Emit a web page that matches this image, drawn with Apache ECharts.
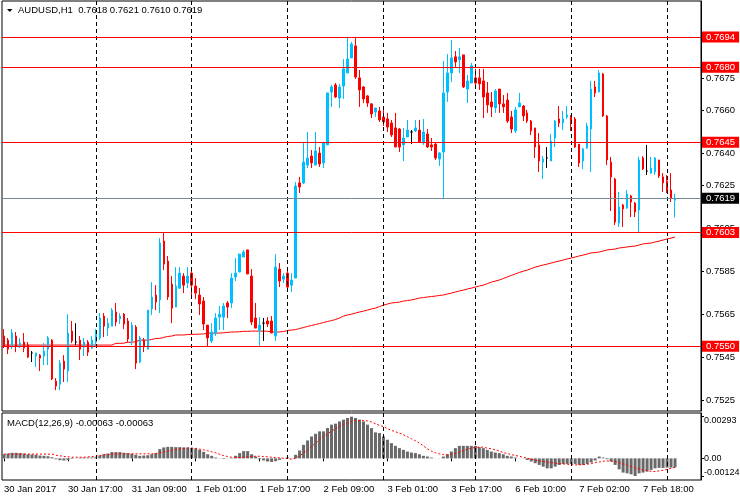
<!DOCTYPE html>
<html><head><meta charset="utf-8">
<script src="https://cdn.jsdelivr.net/npm/echarts@6/dist/echarts.min.js"></script>
<style>html,body{margin:0;padding:0;background:#fff}#c{width:740px;height:500px}</style>
</head><body><div id="c"></div>
<script>
// ---- data ----
const symbolName = 'AUDUSD,H1';
const yearLabel = '30 Jan 2017';
const dayRanges = [['30 Jan',1,23],['31 Jan',0,23],['1 Feb',0,23],['2 Feb',0,23],['3 Feb',0,22],['6 Feb',0,23],['7 Feb',0,23],['8 Feb',0,2]];

const opens = [
.75548,.75529,.75497,.75548,.75501,.75520,.75506,.75469,.75455,.75459,
.75455,.75487,.75529,.75338,.75324,.75431,.75385,.75571,.75520,.75529,
.75497,.75520,.75492,.75520,.75539,.75641,.75585,.75594,.75660,.75627,
.75650,.75618,.75525,.75590,.75427,.75529,.75487,.75674,.75739,.75716,
.75990,.75897,.75790,.75683,.75771,.75827,.75795,.75841,.75781,.75739,
.75711,.75599,.75525,.75562,.75636,.75636,.75702,.75702,.75823,.75846,
.75916,.75949,.75827,.75632,.75576,.75608,.75618,.75618,.75548,.75860,
.75813,.75841,.75785,.75818,.76261,.76261,.76344,.76386,.76344,.76400,
.76354,.76438,.76684,.76717,.76656,.76712,.76773,.76843,.76899,.76750,
.76708,.76666,.76629,.76591,.76596,.76568,.76559,.76540,.76517,.76512,
.76438,.76475,.76498,.76503,.76507,.76447,.76489,.76438,.76442,.76372,
.76405,.76684,.76773,.76848,.76834,.76857,.76698,.76726,.76750,.76750,
.76736,.76680,.76638,.76610,.76698,.76629,.76647,.76568,.76503,.76615,
.76619,.76587,.76549,.76517,.76438,.76358,.76377,.76363,.76470,.76559,
.76540,.76568,.76568,.76559,.76442,.76363,.76424,.76512,.76708,.76684,
.76768,.76573,.76358,.76279,.76074,.76158,.76144,.76200,.76167,.76135,
.76377,.76316,.76307,.76312,.76368,.76289,.76270,.76228,.7618];
const highs = [
.75580,.75539,.75580,.75567,.75539,.75562,.75520,.75478,.75469,.75464,
.75515,.75548,.75534,.75352,.75436,.75459,.75650,.75618,.75608,.75548,
.75539,.75529,.75548,.75580,.75655,.75655,.75632,.75678,.75702,.75655,
.75655,.75632,.75613,.75599,.75548,.75539,.75669,.75799,.75785,.76004,
.76028,.75921,.75827,.75869,.75869,.75841,.75869,.75869,.75818,.75771,
.75730,.75599,.75608,.75655,.75688,.75702,.75711,.75841,.75911,.75930,
.75949,.75949,.75860,.75702,.75636,.75632,.75636,.75641,.75930,.75888,
.75841,.75869,.75841,.76265,.76289,.76452,.76498,.76414,.76498,.76428,
.76452,.76680,.76717,.76726,.76722,.76838,.76941,.76917,.76941,.76787,
.76712,.76670,.76633,.76610,.76615,.76601,.76587,.76554,.76587,.76517,
.76517,.76554,.76507,.76554,.76554,.76559,.76512,.76470,.76447,.76405,
.76829,.76861,.76927,.76875,.76889,.76857,.76764,.76820,.76792,.76792,
.76792,.76731,.76684,.76698,.76698,.76670,.76680,.76596,.76615,.76680,
.76624,.76601,.76554,.76517,.76493,.76386,.76428,.76489,.76554,.76619,
.76596,.76619,.76577,.76568,.76442,.76424,.76540,.76736,.76736,.76787,
.76773,.76577,.76382,.76284,.76219,.76163,.76228,.76205,.76172,.76382,
.76386,.76438,.76382,.76382,.76368,.76307,.76298,.76307,.7621];
const lows = [
.75492,.75464,.75487,.75473,.75492,.75473,.75445,.75427,.75403,.75385,
.75413,.75413,.75343,.75296,.75296,.75334,.75334,.75515,.75506,.75436,
.75455,.75455,.75487,.75497,.75529,.75543,.75548,.75594,.75594,.75604,
.75580,.75520,.75506,.75394,.75422,.75473,.75487,.75646,.75669,.75655,
.75855,.75716,.75608,.75683,.75767,.75748,.75771,.75720,.75720,.75646,
.75576,.75501,.75515,.75548,.75576,.75576,.75632,.75678,.75804,.75846,
.75916,.75837,.75599,.75585,.75501,.75525,.75590,.75562,.75525,.75776,
.75795,.75753,.75753,.75818,.76214,.76256,.76330,.76330,.76344,.76335,
.76330,.76438,.76615,.76656,.76610,.76652,.76773,.76843,.76745,.76615,
.76633,.76615,.76563,.76568,.76545,.76526,.76498,.76475,.76428,.76405,
.76363,.76475,.76442,.76498,.76452,.76438,.76424,.76410,.76368,.76340,
.76191,.76638,.76731,.76801,.76773,.76703,.76633,.76726,.76717,.76694,
.76563,.76587,.76568,.76587,.76587,.76587,.76540,.76493,.76493,.76615,
.76549,.76540,.76484,.76377,.76312,.76279,.76330,.76363,.76428,.76521,
.76507,.76559,.76503,.76424,.76335,.76326,.76419,.76312,.76661,.76684,
.76568,.76344,.76130,.76065,.76056,.76056,.76140,.76102,.76102,.76028,
.76321,.76298,.76303,.76298,.76284,.76219,.76214,.76172,.7610];
const closes = [
.75501,.75487,.75562,.75501,.75515,.75492,.75450,.75469,.75469,.75445,
.75478,.75539,.75348,.75315,.75422,.75394,.75562,.75525,.75520,.75487,
.75520,.75473,.75529,.75571,.75632,.75594,.75608,.75669,.75613,.75641,
.75604,.75534,.75599,.75422,.75539,.75497,.75669,.75730,.75706,.75981,
.75883,.75730,.75678,.75781,.75841,.75785,.75827,.75785,.75748,.75697,
.75604,.75539,.75567,.75632,.75650,.75688,.75683,.75818,.75841,.75930,
.75939,.75837,.75613,.75585,.75599,.75608,.75604,.75562,.75869,.75804,
.75827,.75776,.75809,.76247,.76242,.76358,.76377,.76354,.76410,.76349,
.76447,.76680,.76708,.76661,.76708,.76792,.76838,.76908,.76754,.76694,
.76652,.76633,.76582,.76610,.76554,.76545,.76521,.76484,.76428,.76428,
.76470,.76507,.76498,.76517,.76452,.76498,.76428,.76428,.76377,.76400,
.76680,.76773,.76843,.76824,.76848,.76708,.76736,.76806,.76726,.76722,
.76661,.76624,.76615,.76689,.76629,.76615,.76549,.76512,.76601,.76633,
.76573,.76549,.76503,.76428,.76363,.76372,.76377,.76456,.76549,.76540,
.76559,.76577,.76545,.76428,.76354,.76419,.76526,.76698,.76680,.76773,
.76573,.76368,.76289,.76079,.76149,.76140,.76209,.76172,.76126,.76368,
.76326,.76316,.76330,.76377,.76293,.76261,.76219,.76191,.7619];
const movingAvg = [
.75506,.75506,.75506,.75506,.75506,.75506,.75506,.75506,.75506,.75506,
.75506,.75506,.75506,.75506,.75506,.75506,.75506,.75506,.75506,.75506,
.75506,.75506,.75506,.75506,.75506,.75506,.75506,.75506,
.75514,.75514,.75515,.75519,.75519,.75522,.75529,.75529,.75529,.75532,
.75537,.75537,.75542,.75546,.75548,.75553,.75553,.75553,.75555,.75556,
.75556,.75557,.75558,.75561,.75561,.75562,.75562,.75563,.75565,.75567,
.75567,.75568,.75570,.75570,.75571,.75571,.75571,.75571,.75570,.75568,
.75567,.75567,.75569,.75574,.75576,.75578,.75583,.75588,.75593,.75597,
.75602,.75606,.75611,.75616,.75620,.75625,.75632,.75641,
.75646,.75650,.75655,.75660,.75664,.75669,.75674,.75678,.75685,.75692,
.75697,.75702,.75704,.75706,.75711,.75713,.75716,.75720,.75725,.75727,
.75730,.75732,.75734,.75737,.75739,.75744,.75748,.75753,.75758,.75762,
.75767,.75771,.75776,.75781,.75785,.75792,.75799,.75804,.75809,.75816,
.75823,.75830,.75837,.75844,.75850,.75855,.75862,.75869,.75874,.75879,
.75883,.75888,.75893,.75897,.75902,.75907,.75911,.75916,.75921,.75925,
.75930,.75935,.75937,.75939,.75944,.75949,.75951,.75953,.75958,.75960,
.75963,.75965,.75967,.75972,.75977,.75979,.75981,.75986,.75990,.75995,
.76000,.76004,.76009];
const macdMain = [
.00029,.00034,.00039,.00039,.00037,.00034,.00029,.00027,.00025,.00020,.00018,.00015,.00008,
-.00006,-.00013,-.00015,-.00011,-.00004,-.00001,.00004,.00006,.00006,.00006,.00008,
.00020,.00029,.00034,.00044,.00044,.00044,.00039,.00037,.00032,.00025,.00018,.00020,.00022,.00029,.00037,
.00065,.00077,.00081,.00081,.00079,.00079,.00077,.00077,.00074,.00070,
.00060,.00046,.00029,.00018,.00006,-.00001,-.00004,-.00001,.00004,
.00018,.00037,.00051,.00051,.00029,
.00013,-.00006,-.00015,-.00022,-.00025,-.00020,-.00011,-.00001,.00006,-.00001,
.00025,.00055,.00095,.00126,.00154,.00173,.00190,.00190,.00213,.00237,.00244,.00260,.00272,.00284,.00293,.00284,.00272,.00260,.00237,.00213,
.00183,.00178,.00154,.00131,.00107,.00088,.00072,.00060,.00048,.00041,.00037,.00029,.00018,.00013,.00006,-.00001,-.00001,.00013,
.00029,.00048,.00072,.00088,.00088,.00088,.00088,.00088,.00079,.00072,.00060,.00048,.00041,.00037,.00029,.00018,.00013,.00006,.00001,.00001,
-.00011,-.00022,-.00034,-.00046,-.00058,-.00070,-.00070,-.00058,-.00046,-.00039,-.00039,-.00039,-.00039,-.00046,-.00046,-.00039,-.00029,-.00015,.00013,.00006,
-.00006,-.00022,-.00046,-.00077,-.00100,-.00105,-.00112,-.00124,-.00105,-.00100,-.00093,-.00081,-.00070,-.00067,-.00067,-.00065,-.00065,-.00063];
const macdSignal = [
.00030,.00030,.00030,.00030,.00030,.00030,.00030,.00030,.00030,.00030,.00030,.00030,.00030,
.00022,.00018,.00013,.00011,.00008,.00008,.00008,.00008,.00011,.00013,.00015,
.00020,.00025,.00027,.00029,.00032,.00032,.00032,.00032,.00032,.00032,.00032,.00032,.00032,.00032,.00034,
.00039,.00044,.00051,.00058,.00062,.00067,.00070,.00072,.00072,.00070,
.00065,.00060,.00053,.00046,.00039,.00029,.00020,.00013,
.00008,.00006,.00006,.00008,.00011,.00013,
.00015,.00015,.00013,.00011,.00008,.00006,.00004,.00001,-.00001,-.00006,
.00001,.00018,.00037,.00060,.00084,.00107,.00131,.00154,.00173,.00192,.00209,.00225,.00237,.00249,.00260,.00265,.00267,.00267,.00263,.00256,
.00244,.00232,.00223,.00209,.00197,.00187,.00178,.00166,.00152,.00138,.00124,.00107,.00088,.00067,.00051,.00039,.00032,.00027,.00025,.00029,
.00034,.00044,.00055,.00065,.00072,.00077,.00079,.00079,.00072,.00067,.00060,.00051,.00041,.00034,.00027,.00020,.00015,.00008,.00001,-.00006,
-.00013,-.00018,-.00022,-.00027,-.00029,-.00034,-.00037,-.00039,-.00041,-.00044,-.00046,-.00046,-.00044,-.00041,-.00037,-.00029,-.00025,-.00020,-.00018,-.00020,
-.00022,-.00029,-.00039,-.00048,-.00058,-.00067,-.00074,-.00081,-.00086,-.00091,-.00093,-.00088,-.00084,-.00077,-.00070,-.00063];

const priceTicks = [0.7675,0.7660,0.7640,0.7625,0.7605,0.7585,0.7565,0.7545,0.7525];
const redLevels = [0.7694,0.7680,0.7645,0.7603,0.7550];
const bidLevel = 0.7619;
const macdTicks = [0.00293,0,-0.00124];

// ---- build ----
const times = [];
dayRanges.forEach(([d,a,b]) => { for (let h=a; h<=b; h++) times.push(d+' '+String(h).padStart(2,'0')+':00'); });
const N = times.length;
[['opens',opens],['highs',highs],['lows',lows],['closes',closes],['ma',movingAvg],['macd',macdMain],['sig',macdSignal]].forEach(([n,a])=>{
  if (a.length !== N) throw new Error('length mismatch '+n+' '+a.length+' vs '+N);
});
const cats = times.concat(['+1','+2','+3','+4','+5','+6']);
const dayStarts = times.filter(t => t.endsWith(' 00:00'));
const candles = times.map((t,i)=>[opens[i],closes[i],lows[i],highs[i]]);
const FF = '"Liberation Sans", Arial, sans-serif';
const FS = 9.5;
const labelEvery = (idx) => idx % 16 === 0 && idx < N;

const last = N-1;
const headText = symbolName + '  ' + [opens[last],highs[last],lows[last],closes[last]].map(v=>v.toFixed(4)).join(' ');
const macdText = 'MACD(12,26,9) ' + macdMain[last].toFixed(5) + ' ' + macdSignal[last].toFixed(5);

const vLines = () => dayStarts.map(d => ({xAxis: d, lineStyle:{color:'#000', width:1, type:[4,3]}, label:{show:false}}));
const hLines = redLevels.map(v => ({yAxis: v, lineStyle:{color:'#FF0000', width:1, type:'solid'},
  label:{show:true, position:'end', distance:1, formatter:v.toFixed(4), color:'#fff', backgroundColor:'#FF0000', padding:[1,4,0,4], fontSize:FS, fontFamily:FF}}));
hLines.push({yAxis: bidLevel, lineStyle:{color:'#778899', width:1, type:'solid'},
  label:{show:true, position:'end', distance:1, formatter:bidLevel.toFixed(4), color:'#fff', backgroundColor:'#000', padding:[1,4,0,4], fontSize:FS, fontFamily:FF}});

const MFS = 9;
const macdLabel = (v) => {
  if (v === 0) return '0.00';
  const s = v.toFixed(5);
  return v > 0 ? '{top|' + s + '}' : '{bot|' + s + '}';
};

const chart = echarts.init(document.getElementById('c'), null, {renderer:'canvas'});
chart.setOption({
  animation:false,
  backgroundColor:'#fff',
  textStyle:{fontFamily:FF},
  title:[
    {text:headText, left:13, top:0, textStyle:{fontSize:FS, fontWeight:'normal', color:'#000', fontFamily:FF}},
    {text:macdText, left:2, top:413, textStyle:{fontSize:FS, fontWeight:'normal', color:'#000', fontFamily:FF}}
  ],
  graphic:[{type:'polygon', shape:{points:[[7,9],[12.5,9],[9.75,12]]}, style:{fill:'#000'}}],
  grid:[
    {left:2, top:1, width:699, height:410, show:true, borderColor:'#000', borderWidth:1, containLabel:false, outerBoundsMode:'none'},
    {left:2, top:413, width:699, height:67, show:true, borderColor:'#000', borderWidth:1, containLabel:false, outerBoundsMode:'none'}
  ],
  xAxis:[
    {type:'category', gridIndex:0, data:cats, boundaryGap:true, axisLine:{show:false}, axisTick:{show:false}, axisLabel:{show:false}, splitLine:{show:false}},
    {type:'category', gridIndex:1, data:cats, boundaryGap:true, axisLine:{show:false},
     axisTick:{show:true, interval:labelEvery, alignWithLabel:true, length:3, lineStyle:{color:'#000'}},
     axisLabel:{show:true, interval:labelEvery, align:'left', margin:4, fontSize:FS, color:'#000', fontFamily:FF,
       formatter:(v,idx)=> idx===0 ? yearLabel : v},
     splitLine:{show:false}}
  ],
  yAxis:[
    {type:'value', gridIndex:0, position:'right', min:0.75199, max:0.77108, scale:true,
     axisLine:{show:true, lineStyle:{color:'#000'}},
     axisTick:{show:true, length:3, customValues:priceTicks, lineStyle:{color:'#000'}},
     axisLabel:{show:true, customValues:priceTicks, formatter:v=>v.toFixed(4), margin:5, fontSize:FS, color:'#000', fontFamily:FF},
     splitLine:{show:false}},
    {type:'value', gridIndex:1, position:'right', min:-0.00152, max:0.00319, scale:true,
     axisLine:{show:true, lineStyle:{color:'#000'}},
     axisTick:{show:true, length:3, customValues:macdTicks, lineStyle:{color:'#000'}},
     axisLabel:{show:true, customValues:macdTicks, formatter:macdLabel, margin:3, fontSize:MFS, color:'#000', fontFamily:FF,
       rich:{top:{fontSize:MFS, fontFamily:FF, color:'#000', padding:[7,0,0,0]}, bot:{fontSize:MFS, fontFamily:FF, color:'#000', padding:[0,0,8,0]}}},
     splitLine:{show:false}}
  ],
  series:[
    {type:'line', name:'MA', xAxisIndex:0, yAxisIndex:0, data:movingAvg, showSymbol:false, symbol:'none',
     lineStyle:{color:'#FF0000', width:1}, z:1, silent:true},
    {type:'candlestick', name:'AUDUSD', xAxisIndex:0, yAxisIndex:0, data:candles, barWidth:2,
     itemStyle:{color:'#00BFFF', color0:'#FF0000', borderColor:'#00BFFF', borderColor0:'#FF0000', borderColorDoji:'#000000', borderWidth:1},
     z:3,
     markLine:{silent:true, symbol:['none','none'], animation:false, precision:5, data: vLines().concat(hLines)}},
    {type:'bar', name:'MACD', xAxisIndex:1, yAxisIndex:1, data:macdMain, barWidth:3, itemStyle:{color:'#696969'}, silent:true},
    {type:'line', name:'Signal', xAxisIndex:1, yAxisIndex:1, data:macdSignal, showSymbol:false, symbol:'none',
     lineStyle:{color:'#FF0000', width:1, type:[2,2]}, silent:true, z:4,
     markLine:{silent:true, symbol:['none','none'], animation:false, data: vLines()}}
  ]
});
</script></body></html>
